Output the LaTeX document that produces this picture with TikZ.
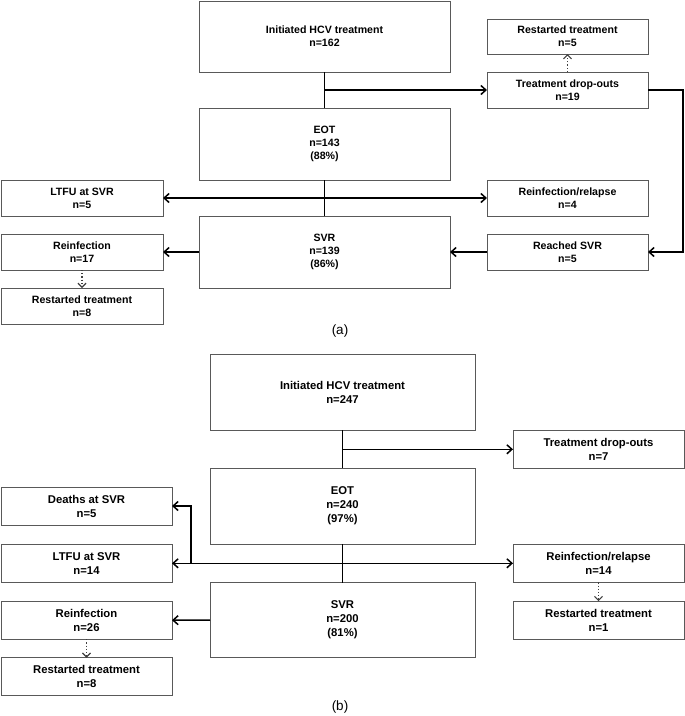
\documentclass[tikz,border=0pt]{standalone}
\usepackage{fontspec}
\setmainfont{Liberation Sans}
\usetikzlibrary{arrows.meta}

\begin{document}
\begin{tikzpicture}[x=1pt, y=-1pt,
	boxa/.style={shape=rectangle, draw=black!65, line width=1pt, inner sep=0pt, outer sep=0pt, align=center, font=\bfseries\fontsize{10.6}{13}\selectfont},
	boxb/.style={boxa, font=\bfseries\fontsize{11.3}{14}\selectfont},
	arr/.style={-{Straight Barb[length=5pt,width=9pt]}, line width=1.5pt},
	arrboth/.style={{Straight Barb[length=5pt,width=9pt]}-{Straight Barb[length=5pt,width=9pt]}, line width=1.5pt},
	dotarr/.style={-{Straight Barb[length=4pt,width=8pt]}, dotted, draw=black!75, line width=1.2pt},
	plain/.style={line width=1.5pt}]
	\useasboundingbox (0,0) rectangle (685,716);
	% Panel (a): nodes
	\node[boxa, minimum width=251, minimum height=71] (initA) at (324.5, 36.5) {Initiated HCV treatment\\n=162};
	\node[boxa, minimum width=161, minimum height=35] (restartA) at (567.5, 36.5) {Restarted treatment\\n=5};
	\node[boxa, minimum width=161, minimum height=36] (dropA) at (567.5, 90) {Treatment drop-outs\\n=19};
	\node[boxa, minimum width=251, minimum height=72] (eotA) at (324.5, 144) {EOT\\n=143\\(88\%)};
	\node[boxa, minimum width=162, minimum height=36] (ltfuA) at (82, 198) {LTFU at SVR\\n=5};
	\node[boxa, minimum width=161, minimum height=36] (relapseA) at (567.5, 198) {Reinfection/relapse\\n=4};
	\node[boxa, minimum width=251, minimum height=72] (svrA) at (324.5, 252) {SVR\\n=139\\(86\%)};
	\node[boxa, minimum width=162, minimum height=36] (reinfA) at (82, 252) {Reinfection\\n=17};
	\node[boxa, minimum width=161, minimum height=36] (reachedA) at (567.5, 252) {Reached SVR\\n=5};
	\node[boxa, minimum width=162, minimum height=36] (restart2A) at (82, 306) {Restarted treatment\\n=8};
	\node[font=\fontsize{13.5}{16}\selectfont] (labelA) at (340, 331) {(a)};
	% Panel (a): connectors
	\draw[plain] (initA.south) -- (eotA.north);
	\draw[arr] (initA.south |- dropA.west) -- (dropA.west);
	\draw[dotarr] (dropA.north) -- (restartA.south);
	\draw[arr] (dropA.east) -- ++(35,0) |- (reachedA.east);
	\draw[plain] (eotA.south) -- (svrA.north);
	\draw[arrboth] (ltfuA.east) -- (relapseA.west);
	\draw[arr] (svrA.west) -- (reinfA.east);
	\draw[arr] (reachedA.west) -- (svrA.east);
	\draw[dotarr] (reinfA.south) -- (restart2A.north);
	% Panel (b): nodes
	\node[boxb, minimum width=265, minimum height=76] (initB) at (342.5, 392.3) {Initiated HCV treatment\\n=247};
	\node[boxb, minimum width=171, minimum height=38] (dropB) at (598.5, 449.3) {Treatment drop-outs\\n=7};
	\node[boxb, minimum width=265, minimum height=76] (eotB) at (342.5, 506.2) {EOT\\n=240\\(97\%)};
	\node[boxb, minimum width=171, minimum height=38] (deathsB) at (86.5, 506) {Deaths at SVR\\n=5};
	\node[boxb, minimum width=171, minimum height=38] (ltfuB) at (86.5, 563.3) {LTFU at SVR\\n=14};
	\node[boxb, minimum width=171, minimum height=38] (relapseB) at (598.5, 563.3) {Reinfection/relapse\\n=14};
	\node[boxb, minimum width=265, minimum height=75] (svrB) at (342.5, 620) {SVR\\n=200\\(81\%)};
	\node[boxb, minimum width=171, minimum height=38] (reinfB) at (86.5, 620.2) {Reinfection\\n=26};
	\node[boxb, minimum width=171, minimum height=38] (restartB) at (598.5, 620.2) {Restarted treatment\\n=1};
	\node[boxb, minimum width=171, minimum height=38] (restart2B) at (86.5, 676.8) {Restarted treatment\\n=8};
	\node[font=\fontsize{13.5}{16}\selectfont] (labelB) at (340, 707) {(b)};
	% Panel (b): connectors
	\draw[plain] (initB.south) -- (eotB.north);
	\draw[arr] (initB.south |- dropB.west) -- (dropB.west);
	\draw[plain] (eotB.south) -- (svrB.north);
	\draw[arrboth] (ltfuB.east) -- (relapseB.west);
	\draw[arr] ([xshift=19pt]ltfuB.east) |- (deathsB.east);
	\draw[arr] (svrB.west) -- (reinfB.east);
	\draw[dotarr] (relapseB.south) -- (restartB.north);
	\draw[dotarr] (reinfB.south) -- (restart2B.north);
\end{tikzpicture}
\end{document}
